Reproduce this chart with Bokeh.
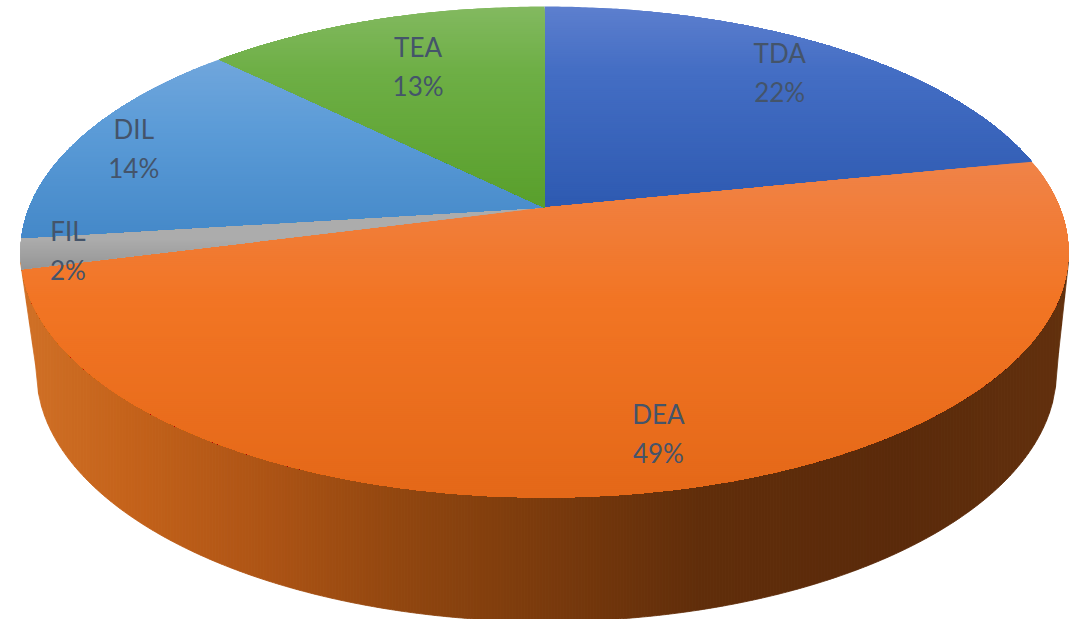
import math
from bokeh.plotting import figure
from bokeh.models import Range1d
from bokeh.core.properties import value
from bokeh.embed import file_html
from bokeh.resources import INLINE

# ---- data ----
categories = ["TDA", "DEA", "FIL", "DIL", "TEA"]
shares = [21.8, 49.2, 2.0, 14.4, 12.6]

# ---- style: vertical gradient stops (y, rgb) per slice ----
top_stops = {
    "TDA": [(6, (93, 127, 206)), (70, (68, 110, 196)), (200, (47, 91, 178))],
    "DEA": [(161, (240, 131, 72)), (300, (242, 117, 36)), (497, (228, 104, 24))],
    "FIL": [(238, (172, 172, 172)), (268, (150, 150, 150))],
    "DIL": [(60, (112, 166, 220)), (130, (91, 155, 215)), (240, (68, 136, 200))],
    "TEA": [(6, (131, 185, 96)), (70, (110, 175, 70)), (200, (90, 160, 45))],
}
side_stops = [(22, (208, 112, 38)), (130, (196, 98, 26)), (270, (172, 83, 20)),
              (400, (145, 70, 15)), (544, (122, 58, 12)), (700, (96, 45, 10)),
              (900, (90, 42, 10)), (1068, (98, 48, 13))]
label_nudge = {"TDA": (14, -9), "DEA": (14, 27), "FIL": (-87, 10), "DIL": (-60, -3), "TEA": (6, 6)}
TEXT = "#44546A"

# ---- geometry of the tilted disc (page pixels) ----
CX, CY = 544.0, 207.0
A, B, K = 515.3, 237.4, 0.1813
TOP_CY, TOP_RX, TOP_RY = 251.5, 524.0, 245.5
BOT_CX, BOT_CY, BOT_RX, BOT_RY = 546.0, 371.0, 510.0, 250.0


def project(theta, r=1.0):
    u, v = r * math.sin(theta), r * math.cos(theta)
    w = 1 + K * v
    return CX + A * u / w, CY - B * v / w


def ramp(stops, t):
    if t <= stops[0][0]:
        return stops[0][1]
    for (t0, c0), (t1, c1) in zip(stops, stops[1:]):
        if t <= t1:
            f = (t - t0) / (t1 - t0)
            return tuple(c0[i] + (c1[i] - c0[i]) * f for i in range(3))
    return stops[-1][1]


def hexc(c):
    return "#%02x%02x%02x" % tuple(int(round(x)) for x in c)


def clip_y(poly, y, keep_below):
    out = []
    inside = (lambda p: p[1] >= y) if keep_below else (lambda p: p[1] <= y)
    for i, p in enumerate(poly):
        q = poly[(i + 1) % len(poly)]
        if inside(p):
            out.append(p)
        if inside(p) != inside(q):
            f = (y - p[1]) / (q[1] - p[1])
            out.append((p[0] + (q[0] - p[0]) * f, y))
    return out


def bottom_edge(x):
    d = abs(x - BOT_CX)
    if d <= BOT_RX:
        return BOT_CY + BOT_RY * math.sqrt(1 - (d / BOT_RX) ** 2)
    if x > BOT_CX:
        f = (x - BOT_CX - BOT_RX) / (CX + TOP_RX - BOT_CX - BOT_RX)
    else:
        f = (BOT_CX - BOT_RX - x) / (BOT_CX - BOT_RX - CX + TOP_RX)
    return BOT_CY + (TOP_CY + 10 - BOT_CY) * f


W, H = 1086, 619
p = figure(width=W, height=H, x_range=Range1d(0, W), y_range=Range1d(H, 0),
           output_backend="svg", toolbar_location=None, min_border=0,
           outline_line_color=None, background_fill_color="white", border_fill_color="white")
p.axis.visible = False
p.grid.visible = False

# side wall, drawn as vertical strips
xs, ys, cs = [], [], []
STEP = 3.0
x = CX - TOP_RX
while x < CX + TOP_RX:
    x1 = min(x + STEP, CX + TOP_RX)
    xs.append([x, x1, x1, x])
    ys.append([TOP_CY, TOP_CY, bottom_edge(x1), bottom_edge(x)])
    cs.append(hexc(ramp(side_stops, (x + x1) / 2)))
    x = x1
p.patches(xs, ys, fill_color=cs, line_color=cs, line_width=0.8)

# top face, every slice cut into horizontal bands for its gradient;
# each band runs to the bottom of the slice and the next one paints over it
total = sum(shares)
start = 0.0
anchors = []
xs, ys, cs = [], [], []
for name, share in zip(categories, shares):
    t0 = start / total * 2 * math.pi
    t1 = (start + share) / total * 2 * math.pi
    n = max(8, int(share * 8))
    poly = [(CX, CY)] + [project(t0 + (t1 - t0) * i / n) for i in range(n + 1)]
    anchors.append(project((t0 + t1) / 2, 0.75))
    ylo, yhi = min(q[1] for q in poly), max(q[1] for q in poly)
    y = ylo
    while y < yhi:
        y1 = min(y + 2.0, yhi)
        band = clip_y(poly, y, True)
        if len(band) >= 3:
            xs.append([q[0] for q in band])
            ys.append([q[1] for q in band])
            cs.append(hexc(ramp(top_stops[name], (y + y1) / 2)))
        y = y1
    start += share
p.patches(xs, ys, fill_color=cs, line_color=None)

# labels
lx = [a[0] + label_nudge[c][0] for a, c in zip(anchors, categories)]
ly = [a[1] + label_nudge[c][1] for a, c in zip(anchors, categories)]
pct = ["%d%%" % round(s / total * 100) for s in shares]
for texts, off in ((categories, -21), (pct, 18)):
    p.text(lx, ly, text=texts, text_align="center", text_baseline="middle", y_offset=off,
           text_color=TEXT, text_font=value("Lato"), text_font_size="26px")

open("out.html", "w").write(file_html(p, INLINE))
